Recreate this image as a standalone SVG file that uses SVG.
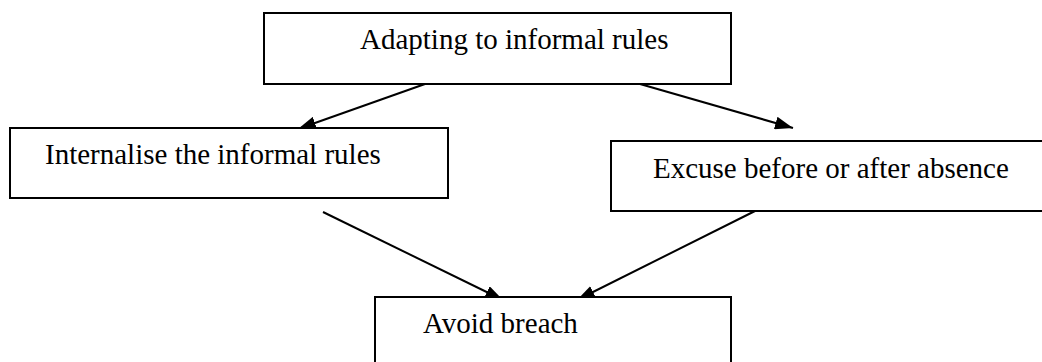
<svg xmlns="http://www.w3.org/2000/svg" width="1042" height="362" viewBox="0 0 1042 362">
<defs>
<style>
.box{fill:#fff;stroke:#000;stroke-width:2}
.lbl{font-family:"Liberation Serif","Times New Roman",serif;font-size:29px;fill:#000}
.edge{stroke:#000;stroke-width:2;fill:none;marker-end:url(#ah)}
</style>
<marker id="ah" viewBox="0 0 18 13" refX="18" refY="6.5" markerWidth="18" markerHeight="13" markerUnits="userSpaceOnUse" orient="auto">
<path d="M0,0 L18,6.5 L0,13 Z" fill="#000"/>
</marker>
</defs>
<rect width="1042" height="362" fill="#fff"/>
<g id="connectors">
<line class="edge" x1="425" y1="84" x2="298" y2="129"/>
<line class="edge" x1="640" y1="84" x2="793" y2="128"/>
<line class="edge" x1="323" y1="212" x2="503" y2="300"/>
<line class="edge" x1="755" y1="211" x2="577" y2="300"/>
</g>
<g id="node-adapting">
<rect class="box" x="264" y="13" width="467" height="71"/>
<text class="lbl" x="360" y="49">Adapting to informal rules</text>
</g>
<g id="node-internalise">
<rect class="box" x="10" y="128" width="438" height="70"/>
<text class="lbl" x="45" y="164">Internalise the informal rules</text>
</g>
<g id="node-excuse">
<rect class="box" x="611" y="141" width="434" height="70"/>
<text class="lbl" x="653" y="178">Excuse before or after absence</text>
</g>
<g id="node-avoid">
<rect class="box" x="375" y="297" width="356" height="70"/>
<text class="lbl" x="423" y="333">Avoid breach</text>
</g>
</svg>
